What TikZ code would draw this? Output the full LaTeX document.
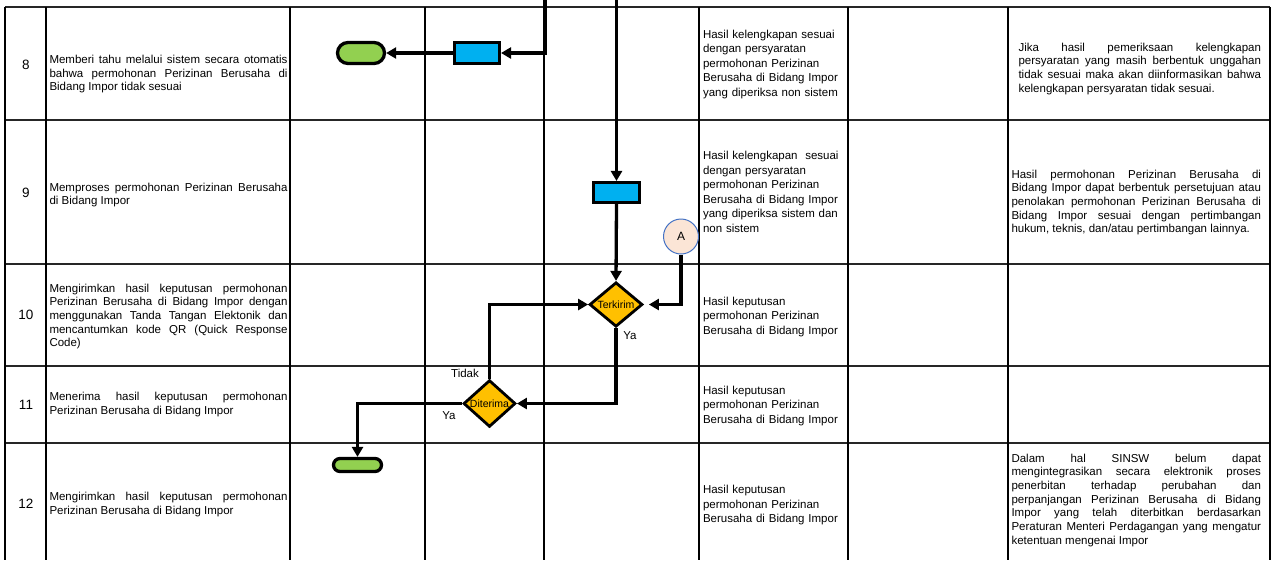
\documentclass[tikz,border=0pt]{standalone}
\usepackage{fontspec}
\setmainfont{Liberation Sans}
\usetikzlibrary{arrows.meta,shapes.geometric}
\definecolor{boxblue}{HTML}{00B0F0}
\definecolor{termgreen}{HTML}{92D050}
\definecolor{decgold}{HTML}{FFC000}
\definecolor{conpeach}{HTML}{FBE5D6}
\definecolor{conblue}{HTML}{4472C4}
\newcommand\jl[1]{\makebox[\hsize][s]{\spaceskip=0.278em plus 3em minus 0.05em\xspaceskip=0pt #1}}
\begin{document}
\begin{tikzpicture}[x=1pt,y=-1pt,
  thickv/.style={line width=2.4pt},
  thinv/.style={line width=1.3pt},
  rowl/.style={line width=1.8pt,black!85},
  txt/.style={anchor=base west,inner sep=0pt,outer sep=0pt,text width=#1,align=justify,
    font=\fontsize{11.5}{13.7}\selectfont},
  txtb/.style={anchor=base west,inner sep=0pt,outer sep=0pt,text width=#1,align=left,
    font=\fontsize{11.5}{14.5}\selectfont},
  num/.style={inner sep=0pt,font=\fontsize{13.5}{16}\selectfont},
  lbl/.style={inner sep=0pt,font=\fontsize{11.5}{13}\selectfont},
  termshape/.style={draw,line width=3.3pt,fill=termgreen},
  procbox/.style={draw,line width=2.6pt,fill=boxblue},
  decision/.style={diamond,draw,line width=2.8pt,fill=decgold,inner sep=0pt,
    font=\fontsize{10.5}{11}\selectfont},
  connector/.style={circle,draw=conblue,line width=1pt,fill=conpeach,inner sep=0pt,
    minimum size=35pt,font=\fontsize{12}{13}\selectfont},
  flow/.style={line width=3.3pt,-{Triangle[length=10pt,width=11pt]}}]
\useasboundingbox (0,0) rectangle (1273,560);
% grid
\foreach \yy in {7,120,264,366,443}{\draw[rowl] (5,\yy) -- (1270,\yy);}
\foreach \xx in {5,46,699,848,1008,1270}{\draw[thickv] (\xx,7) -- (\xx,560);}
\foreach \xx in {290,425,544}{\draw[thinv] (\xx,7) -- (\xx,560);}
% numbers
\node[num] (n8) at (26,65) {8};
\node[num] (n9) at (26,193) {9};
\node[num] (n10) at (26,315) {10};
\node[num] (n11) at (26,405) {11};
\node[num] (n12) at (26,504) {12};
% activity texts
\node[txt=238pt] (a8) at (49.5,63.5) {\jl{Memberi tahu melalui sistem secara otomatis}\\\jl{bahwa permohonan Perizinan Berusaha di}\\Bidang Impor tidak sesuai};
\node[txt=238pt] (a9) at (49.5,191) {\jl{Memproses permohonan Perizinan Berusaha}\\di Bidang Impor};
\node[txt=238pt] (a10) at (49.5,292) {\jl{Mengirimkan hasil keputusan permohonan}\\\jl{Perizinan Berusaha di Bidang Impor dengan}\\\jl{menggunakan Tanda Tangan Elektonik dan}\\\jl{mencantumkan kode QR (Quick Response}\\Code)};
\node[txt=238pt] (a11) at (49.5,400.5) {\jl{Menerima hasil keputusan permohonan}\\Perizinan Berusaha di Bidang Impor};
\node[txt=238pt] (a12) at (49.5,500.5) {\jl{Mengirimkan hasil keputusan permohonan}\\Perizinan Berusaha di Bidang Impor};
% output texts
\node[txtb=145pt] (o8) at (703,38) {Hasil kelengkapan sesuai\\dengan persyaratan\\permohonan Perizinan\\Berusaha di Bidang Impor\\yang diperiksa non sistem};
\node[txtb=145pt] (o9) at (703,159.5) {Hasil kelengkapan\ \ sesuai\\dengan persyaratan\\permohonan Perizinan\\Berusaha di Bidang Impor\\yang diperiksa sistem dan\\non sistem};
\node[txtb=145pt] (o10) at (703,305) {Hasil keputusan\\permohonan Perizinan\\Berusaha di Bidang Impor};
\node[txtb=145pt] (o11) at (703,394) {Hasil keputusan\\permohonan Perizinan\\Berusaha di Bidang Impor};
\node[txtb=145pt] (o12) at (703,493.5) {Hasil keputusan\\permohonan Perizinan\\Berusaha di Bidang Impor};
% notes
\node[txt=242.5pt] (k8) at (1018.5,51) {\jl{Jika hasil pemeriksaan kelengkapan}\\\jl{persyaratan yang masih berbentuk unggahan}\\\jl{tidak sesuai maka akan diinformasikan bahwa}\\kelengkapan persyaratan tidak sesuai.};
\node[txt=249.5pt] (k9) at (1011.5,178) {\jl{Hasil permohonan Perizinan Berusaha di}\\\jl{Bidang Impor dapat berbentuk persetujuan atau}\\\jl{penolakan permohonan Perizinan Berusaha di}\\\jl{Bidang Impor sesuai dengan pertimbangan}\\hukum, teknis, dan/atau pertimbangan lainnya.};
\node[txt=249.5pt] (k12) at (1011.5,462) {\jl{Dalam hal SINSW belum dapat}\\\jl{mengintegrasikan secara elektronik proses}\\\jl{penerbitan terhadap perubahan dan}\\\jl{perpanjangan Perizinan Berusaha di Bidang}\\\jl{Impor yang telah diterbitkan berdasarkan}\\\jl{Peraturan Menteri Perdagangan yang mengatur}\\ketentuan mengenai Impor};
% shapes
\node[termshape,minimum width=47pt,minimum height=21pt,rounded corners=10.5pt] (t1) at (361,53) {};
\node[procbox,minimum width=45.5pt,minimum height=21.5pt] (b1) at (477,53) {};
\node[procbox,minimum width=46.5pt,minimum height=20.5pt] (b2) at (616.5,192.5) {};
\node[connector,minimum size=35pt] (ca) at (681,236.5) {A};
\node[decision,minimum width=53pt,minimum height=32pt] (d1) at (616,304.5) {Terkirim};
\node[decision,minimum width=52pt,minimum height=32pt] (d2) at (489.5,403.5) {Diterima};
\node[termshape,minimum width=48pt,minimum height=13pt,rounded corners=6.5pt] (t2) at (357.5,465) {};
% connector ends
\coordinate (top1) at (545,0);
\coordinate (top2) at (616.5,0);
% flows
\draw[flow] (top1) |- (b1.east);
\draw[flow] (b1.west) -- (t1.east);
\draw[flow] (top2) -- (b2.north);
\draw[flow] (b2.south) -- (d1.north);
\draw[flow,shorten >=5pt] (ca.south) |- (d1.east);
\draw[flow] (d1.south) |- (d2.east);
\draw[flow] (d2.north) |- (d1.west);
\draw[flow] (d2.west) -| (t2.north);
% labels
\node[lbl] (ya1) at (630,336) {Ya};
\node[lbl] (tidak) at (465,373) {Tidak};
\node[lbl] (ya2) at (449,416) {Ya};
\end{tikzpicture}
\end{document}
